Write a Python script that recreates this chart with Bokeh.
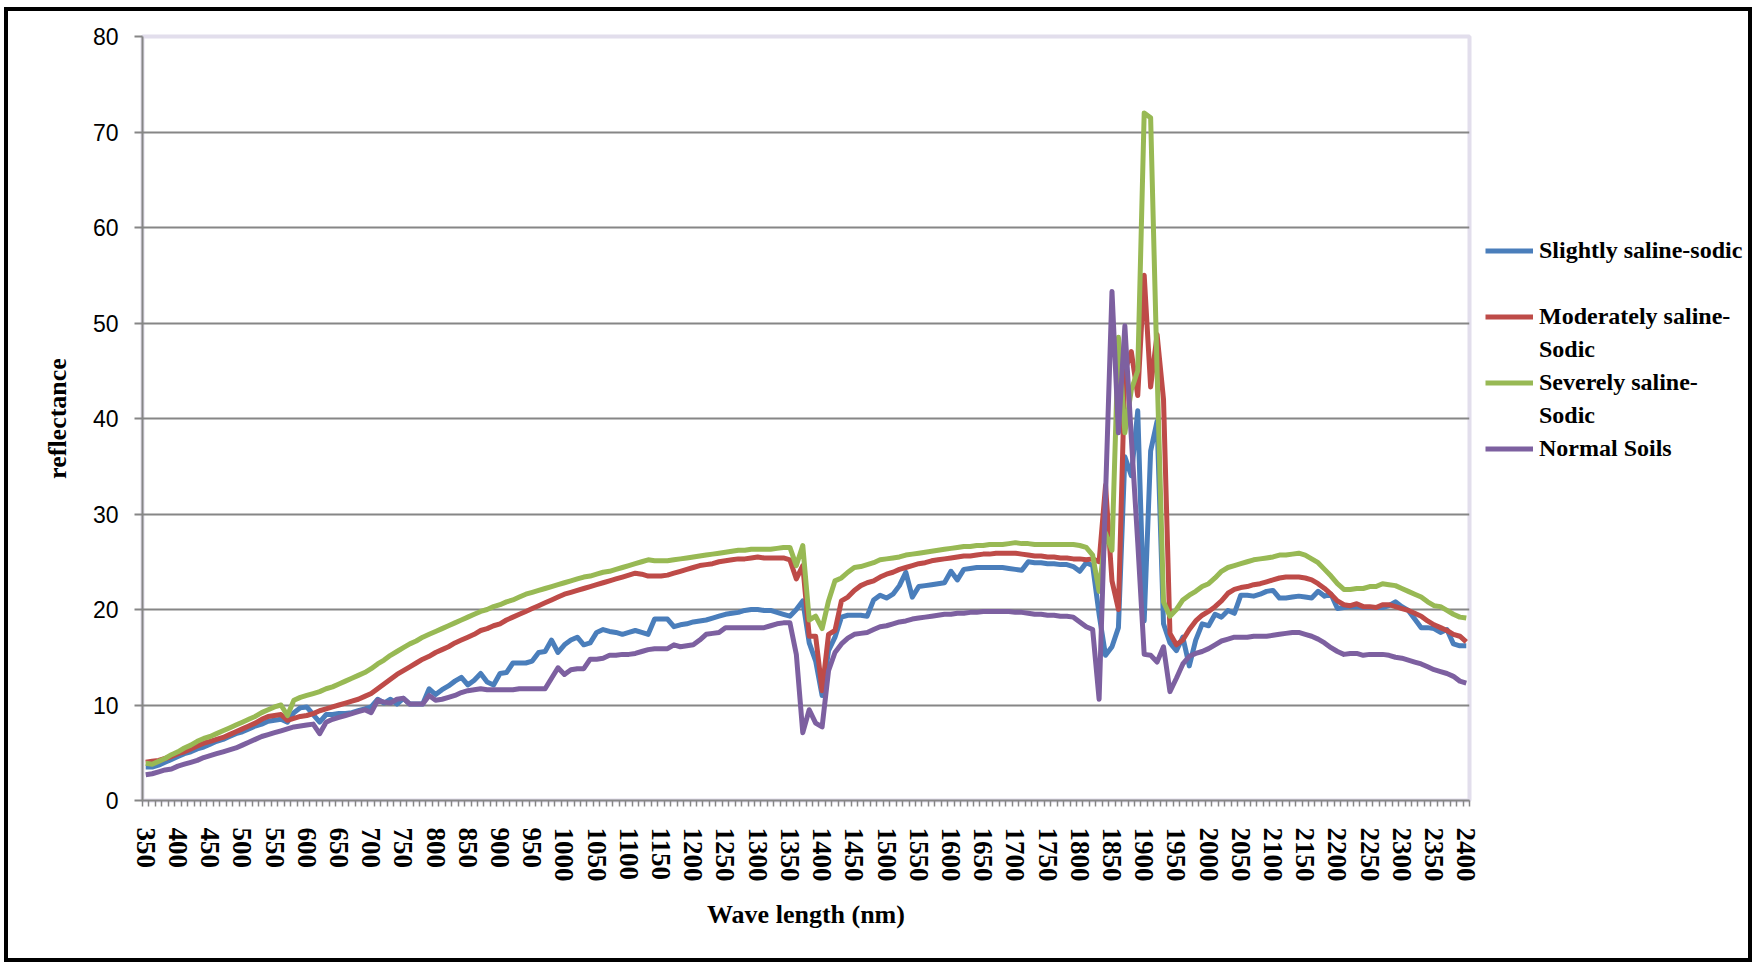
from bokeh.plotting import figure
from bokeh.layouts import row
from bokeh.models import FixedTicker, Legend, LegendItem, Range1d
from bokeh.embed import file_html
from bokeh.resources import INLINE

# wavelength categories (nm), one point every 10 nm
wavelengths = list(range(350, 2401, 10))
tick_labels = wavelengths[::5]

slightly_saline_sodic = [
    3.5, 3.5, 3.7, 4.0, 4.3, 4.6, 4.9, 5.1, 5.4, 5.6,
    5.9, 6.2, 6.4, 6.7, 7.0, 7.2, 7.5, 7.8, 8.0, 8.3,
    8.4, 8.5, 8.2, 9.2, 9.7, 9.8, 9.0, 8.2, 9.0, 9.0,
    9.1, 9.1, 9.2, 9.4, 9.6, 9.8, 10.6, 10.2, 10.6, 10.1,
    10.7, 10.1, 10.1, 10.1, 11.7, 11.1, 11.6, 12.0, 12.5, 12.9,
    12.1, 12.6, 13.3, 12.4, 12.1, 13.3, 13.4, 14.4, 14.4, 14.4,
    14.6, 15.5, 15.6, 16.8, 15.5, 16.3, 16.8, 17.1, 16.3, 16.5,
    17.6, 17.9, 17.7, 17.6, 17.4, 17.6, 17.8, 17.6, 17.4, 19.0,
    19.0, 19.0, 18.2, 18.4, 18.5, 18.7, 18.8, 18.9, 19.1, 19.3,
    19.5, 19.6, 19.7, 19.9, 20.0, 20.0, 19.9, 19.9, 19.7, 19.5,
    19.3, 20.0, 20.9, 16.5, 14.6, 11.0, 15.7, 17.1, 19.2, 19.4,
    19.4, 19.4, 19.3, 21.0, 21.5, 21.2, 21.6, 22.5, 23.9, 21.3,
    22.4, 22.5, 22.6, 22.7, 22.8, 24.0, 23.1, 24.2, 24.3, 24.4,
    24.4, 24.4, 24.4, 24.4, 24.3, 24.2, 24.1, 25.0, 24.9, 24.9,
    24.8, 24.8, 24.7, 24.7, 24.5, 24.0, 24.9, 24.6, 19.5, 15.2,
    16.1, 18.1, 36.0, 34.0, 40.8, 18.8, 36.6, 39.7, 18.5, 16.5,
    15.7, 17.1, 14.1, 16.8, 18.5, 18.3, 19.5, 19.2, 19.9, 19.6,
    21.5, 21.5, 21.4, 21.6, 21.9, 22.0, 21.2, 21.2, 21.3, 21.4,
    21.3, 21.2, 21.9, 21.4, 21.6, 20.1, 20.2, 20.3, 20.3, 20.2,
    20.2, 20.2, 20.2, 20.4, 20.8, 20.3, 19.9, 19.0, 18.1, 18.1,
    18.0, 17.6, 17.9, 16.4, 16.2, 16.2,
]

moderately_saline_sodic = [
    4.0, 4.1, 4.2, 4.4, 4.6, 4.9, 5.1, 5.4, 5.7, 6.0,
    6.2, 6.4, 6.6, 6.9, 7.2, 7.5, 7.8, 8.1, 8.5, 8.8,
    8.9, 9.0, 8.4, 8.6, 8.8, 8.9, 9.1, 9.4, 9.6, 9.8,
    10.0, 10.2, 10.4, 10.6, 10.9, 11.2, 11.7, 12.2, 12.7, 13.2,
    13.6, 14.0, 14.4, 14.8, 15.1, 15.5, 15.8, 16.1, 16.5, 16.8,
    17.1, 17.4, 17.8, 18.0, 18.3, 18.5, 18.9, 19.2, 19.5, 19.8,
    20.1, 20.4, 20.7, 21.0, 21.3, 21.6, 21.8, 22.0, 22.2, 22.4,
    22.6, 22.8, 23.0, 23.2, 23.4, 23.6, 23.8, 23.7, 23.5, 23.5,
    23.5, 23.6, 23.8, 24.0, 24.2, 24.4, 24.6, 24.7, 24.8, 25.0,
    25.1, 25.2, 25.3, 25.3, 25.4, 25.5, 25.4, 25.4, 25.4, 25.4,
    25.2, 23.2, 24.6, 17.2, 17.2, 11.5, 17.4, 17.8, 20.9, 21.3,
    22.0, 22.5, 22.8, 23.0, 23.4, 23.7, 23.9, 24.2, 24.4, 24.6,
    24.8, 24.9, 25.1, 25.2, 25.3, 25.4, 25.5, 25.6, 25.6, 25.7,
    25.8, 25.8, 25.9, 25.9, 25.9, 25.9, 25.8, 25.7, 25.6, 25.6,
    25.5, 25.5, 25.4, 25.4, 25.3, 25.3, 25.2, 25.3, 25.0, 33.0,
    23.0, 20.0, 45.0, 47.0, 42.4, 55.0, 43.3, 48.8, 42.0, 17.5,
    16.3, 16.8, 17.9, 18.8, 19.4, 19.8, 20.3, 20.9, 21.7, 22.1,
    22.3, 22.4, 22.6, 22.7, 22.9, 23.1, 23.3, 23.4, 23.4, 23.4,
    23.3, 23.1, 22.7, 22.2, 21.6, 20.9, 20.5, 20.4, 20.6, 20.3,
    20.3, 20.2, 20.5, 20.5, 20.3, 20.1, 19.9, 19.6, 19.3, 18.8,
    18.4, 18.1, 17.8, 17.4, 17.2, 16.6,
]

severely_saline_sodic = [
    3.9, 3.8, 4.1, 4.4, 4.8, 5.1, 5.5, 5.8, 6.2, 6.5,
    6.7, 7.0, 7.3, 7.6, 7.9, 8.2, 8.5, 8.8, 9.2, 9.5,
    9.8, 10.0, 8.9, 10.5, 10.8, 11.0, 11.2, 11.4, 11.7, 11.9,
    12.2, 12.5, 12.8, 13.1, 13.4, 13.8, 14.3, 14.7, 15.2, 15.6,
    16.0, 16.4, 16.7, 17.1, 17.4, 17.7, 18.0, 18.3, 18.6, 18.9,
    19.2, 19.5, 19.8, 20.0, 20.3, 20.5, 20.8, 21.0, 21.3, 21.6,
    21.8, 22.0, 22.2, 22.4, 22.6, 22.8, 23.0, 23.2, 23.4, 23.5,
    23.7, 23.9, 24.0, 24.2, 24.4, 24.6, 24.8, 25.0, 25.2, 25.1,
    25.1, 25.1, 25.2, 25.3, 25.4, 25.5, 25.6, 25.7, 25.8, 25.9,
    26.0, 26.1, 26.2, 26.2, 26.3, 26.3, 26.3, 26.3, 26.4, 26.5,
    26.5, 24.6, 26.7, 18.9, 19.3, 18.0, 20.9, 23.0, 23.3, 23.9,
    24.4, 24.5, 24.7, 24.9, 25.2, 25.3, 25.4, 25.5, 25.7, 25.8,
    25.9, 26.0, 26.1, 26.2, 26.3, 26.4, 26.5, 26.6, 26.6, 26.7,
    26.7, 26.8, 26.8, 26.8, 26.9, 27.0, 26.9, 26.9, 26.8, 26.8,
    26.8, 26.8, 26.8, 26.8, 26.8, 26.7, 26.5, 25.7, 21.9, 28.0,
    26.2, 48.5, 38.5, 43.0, 45.0, 72.0, 71.5, 45.0, 20.8, 19.3,
    20.0, 21.0, 21.5, 21.9, 22.4, 22.7, 23.3, 24.0, 24.4, 24.6,
    24.8, 25.0, 25.2, 25.3, 25.4, 25.5, 25.7, 25.7, 25.8, 25.9,
    25.7, 25.3, 24.9, 24.2, 23.5, 22.7, 22.1, 22.1, 22.2, 22.2,
    22.4, 22.4, 22.7, 22.6, 22.5, 22.2, 21.9, 21.6, 21.3, 20.8,
    20.4, 20.3, 19.9, 19.5, 19.2, 19.1,
]

normal_soils = [
    2.7, 2.8, 3.0, 3.2, 3.3, 3.6, 3.8, 4.0, 4.2, 4.5,
    4.7, 4.9, 5.1, 5.3, 5.5, 5.8, 6.1, 6.4, 6.7, 6.9,
    7.1, 7.3, 7.5, 7.7, 7.8, 7.9, 8.0, 7.0, 8.2, 8.5,
    8.7, 8.9, 9.1, 9.3, 9.5, 9.2, 10.5, 10.3, 10.2, 10.6,
    10.7, 10.1, 10.1, 10.1, 11.0, 10.5, 10.6, 10.8, 11.0, 11.3,
    11.5, 11.6, 11.7, 11.6, 11.6, 11.6, 11.6, 11.6, 11.7, 11.7,
    11.7, 11.7, 11.7, 12.8, 13.9, 13.2, 13.7, 13.8, 13.8, 14.8,
    14.8, 14.9, 15.2, 15.2, 15.3, 15.3, 15.4, 15.6, 15.8, 15.9,
    15.9, 15.9, 16.3, 16.1, 16.2, 16.3, 16.8, 17.4, 17.5, 17.6,
    18.1, 18.1, 18.1, 18.1, 18.1, 18.1, 18.1, 18.3, 18.5, 18.6,
    18.6, 15.3, 7.1, 9.5, 8.1, 7.7, 13.6, 15.5, 16.4, 17.0,
    17.4, 17.5, 17.6, 17.9, 18.2, 18.3, 18.5, 18.7, 18.8, 19.0,
    19.1, 19.2, 19.3, 19.4, 19.5, 19.5, 19.6, 19.6, 19.7, 19.7,
    19.8, 19.8, 19.8, 19.8, 19.8, 19.7, 19.7, 19.6, 19.5, 19.5,
    19.4, 19.4, 19.3, 19.3, 19.2, 18.7, 18.2, 17.9, 10.6, 32.0,
    53.3, 38.5, 49.7, 38.0, 27.0, 15.3, 15.2, 14.5, 16.1, 11.4,
    12.8, 14.3, 15.1, 15.4, 15.6, 15.9, 16.3, 16.7, 16.9, 17.1,
    17.1, 17.1, 17.2, 17.2, 17.2, 17.3, 17.4, 17.5, 17.6, 17.6,
    17.4, 17.2, 16.9, 16.5, 16.0, 15.6, 15.3, 15.4, 15.4, 15.2,
    15.3, 15.3, 15.3, 15.2, 15.0, 14.9, 14.7, 14.5, 14.3, 14.0,
    13.7, 13.5, 13.3, 13.0, 12.5, 12.3,
]

series_names = ["Slightly saline-sodic", "Moderately saline-", "Severely saline-", "Normal Soils"]
series_second_lines = [" ", "Sodic", "Sodic", None]
series_colors = ["#4A7EBB", "#BE4B48", "#98B954", "#7D60A0"]
series_values = [slightly_saline_sodic, moderately_saline_sodic, severely_saline_sodic, normal_soils]

GRAY = "#868686"
SERIF = "Liberation Serif"
SANS = "Liberation Sans"

# overall box (inside the black frame) and plot-area placement, in px
BOX_W, BOX_H = 1740, 947
FRAME_L, FRAME_R, FRAME_T, FRAME_B = 134, 1461, 25, 789
MAIN_W = FRAME_R + 16

p = figure(width=MAIN_W, height=BOX_H, output_backend="svg", toolbar_location=None,
           x_range=Range1d(wavelengths[0] - 5, wavelengths[-1] + 5),
           y_range=Range1d(0, 80),
           min_border_left=FRAME_L, min_border_top=FRAME_T,
           min_border_right=MAIN_W - FRAME_R, min_border_bottom=BOX_H - FRAME_B)

p.background_fill_color = "white"
p.border_fill_color = "white"
p.outline_line_color = "#E2DEEC"
p.outline_line_width = 4

# x axis
p.xaxis.ticker = FixedTicker(ticks=tick_labels,
                             minor_ticks=[w - 5 for w in wavelengths] + [wavelengths[-1] + 5])
p.xaxis.major_tick_out = 0
p.xaxis.major_tick_in = 0
p.xaxis.minor_tick_out = 6
p.xaxis.minor_tick_in = 0
p.xaxis.minor_tick_line_color = GRAY
p.xaxis.minor_tick_line_width = 1.5
p.xaxis.axis_line_color = GRAY
p.xaxis.axis_line_width = 2
p.xaxis.major_label_orientation = "vertical"
p.xaxis.major_label_standoff = 21
p.xaxis.major_label_text_font = SERIF
p.xaxis.major_label_text_font_style = "bold"
p.xaxis.major_label_text_font_size = "27px"
p.xaxis.major_label_text_color = "black"
p.xaxis.axis_label = "Wave length (nm)"
p.xaxis.axis_label_text_font = SERIF
p.xaxis.axis_label_text_font_style = "bold"
p.xaxis.axis_label_text_font_size = "26px"
p.xaxis.axis_label_text_color = "black"
p.xaxis.axis_label_standoff = 15

# y axis
p.yaxis.ticker = FixedTicker(ticks=[0, 10, 20, 30, 40, 50, 60, 70, 80])
p.yaxis.major_tick_out = 8
p.yaxis.major_tick_in = 0
p.yaxis.minor_tick_out = 0
p.yaxis.minor_tick_in = 0
p.yaxis.major_tick_line_color = GRAY
p.yaxis.major_tick_line_width = 2
p.yaxis.axis_line_color = GRAY
p.yaxis.axis_line_width = 2
p.yaxis.major_label_standoff = 16
p.yaxis.major_label_text_font = SANS
p.yaxis.major_label_text_font_size = "23px"
p.yaxis.major_label_text_color = "black"
p.yaxis.axis_label = "reflectance"
p.yaxis.axis_label_text_font = SERIF
p.yaxis.axis_label_text_font_style = "bold"
p.yaxis.axis_label_text_font_size = "26px"
p.yaxis.axis_label_text_color = "black"
p.yaxis.axis_label_standoff = 18

# grid
p.xgrid.visible = False
p.ygrid.ticker = FixedTicker(ticks=[10, 20, 30, 40, 50, 60, 70])
p.ygrid.grid_line_color = GRAY
p.ygrid.grid_line_width = 2

for vals, col in zip(series_values, series_colors):
    p.line(wavelengths, vals, line_color=col, line_width=5, line_join="round")

# legend panel to the right of the plot area (its own ranges keep the proxy lines out of view)
lp = figure(width=BOX_W - MAIN_W, height=BOX_H, output_backend="svg", toolbar_location=None,
            x_axis_location=None, y_axis_location=None,
            x_range=Range1d(0, 1), y_range=Range1d(0, 1),
            min_border=0, min_border_left=0, min_border_right=0,
            min_border_top=0, min_border_bottom=0)
lp.outline_line_color = None
lp.background_fill_color = "white"
lp.border_fill_color = "white"
lp.grid.visible = False

spacer = lp.line(wavelengths, slightly_saline_sodic, line_alpha=0)
items = []
for name, second, vals, col in zip(series_names, series_second_lines, series_values, series_colors):
    proxy = lp.line(wavelengths, vals, line_color=col, line_width=5)
    items.append(LegendItem(label=name, renderers=[proxy]))
    if second is not None:
        items.append(LegendItem(label=second, renderers=[spacer]))

legend = Legend(items=items, location=(0, 338), orientation="vertical",
                glyph_width=48, glyph_height=27, label_height=27,
                spacing=6, padding=0, margin=0, label_standoff=6,
                border_line_alpha=0, background_fill_alpha=0,
                label_text_font=SERIF, label_text_font_style="bold",
                label_text_font_size="24px", label_text_color="black")
lp.add_layout(legend)

layout = row(p, lp, spacing=0,
             styles={"outline": "4px solid black", "margin-left": "8px", "margin-top": "11px"})

open("out.html", "w").write(file_html(layout, INLINE))
